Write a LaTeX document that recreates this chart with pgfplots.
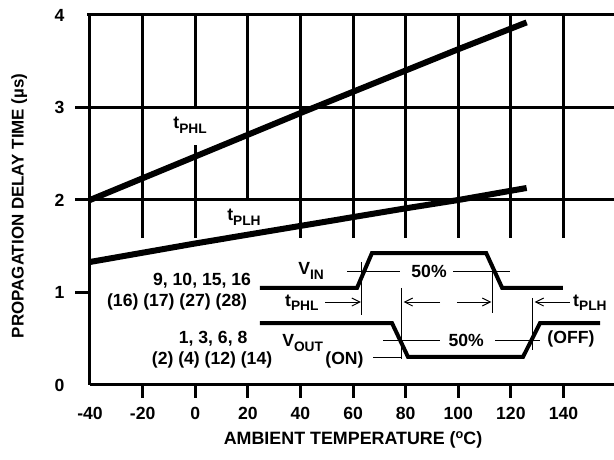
\documentclass[border=0pt]{standalone}
\usepackage{fontspec}
\setmainfont{Liberation Sans}
\usepackage{pgfplots}
\pgfplotsset{compat=1.18}
\usetikzlibrary{arrows.meta}

\newcommand\lbl{\bfseries\fontsize{13.2}{15}\selectfont}
\newcommand\sub[1]{\raisebox{-3.6pt}{\fontsize{10.3}{11}\selectfont #1}}

\begin{document}
\begin{tikzpicture}
\begin{axis}[
  at={(0,0)}, anchor=south west,
  width=393pt, height=277.5pt,
  scale only axis,
  xmin=-40, xmax=159.2,
  ymin=0, ymax=4,
  clip=false,
  axis line style={draw=none},
  major tick length=0pt,
  xtick={-40,-20,...,140},
  xticklabels={-40,-20,0,20,40,60,80,100,120,140},
  ytick={0,1,2,3,4},
  yticklabels={0,1,2,3,4},
  xticklabel style={font=\lbl, inner sep=0pt, yshift=-16.5pt},
  yticklabel style={font=\lbl, inner sep=0pt, xshift=-19pt},
  xlabel={AMBIENT TEMPERATURE (\raisebox{4.5pt}{\fontsize{9.5}{10}\selectfont o}C)},
  ylabel={PROPAGATION DELAY TIME (µs)},
  xlabel style={font=\bfseries\fontsize{13.4}{15}\selectfont, at={(axis description cs:0.502,-0.149)}, anchor=center},
  ylabel style={font=\bfseries\fontsize{12.7}{14}\selectfont, at={(axis description cs:-0.135,0.484)}, anchor=center, rotate=0},
]
% frame (no right side)
\draw[line width=2.25pt] (axis cs:-40,0) -- (axis cs:-40,4);
\draw[line width=2.25pt] (axis cs:-40,0) -- (axis cs:159.2,0);
\draw[line width=2.25pt] (axis cs:-41,4) -- (axis cs:159.2,4);
% horizontal grid + y ticks
\draw[line width=2.25pt] (axis cs:-45.7,3) -- (axis cs:159.2,3);
\draw[line width=2.25pt] (axis cs:-45.7,2) -- (axis cs:159.2,2);
\draw[line width=2.25pt] (axis cs:-45.7,1) -- (axis cs:-40,1);
% x ticks
\pgfplotsinvokeforeach{-20,0,...,140}{
  \draw[line width=2.25pt] (axis cs:#1,0) -- (axis cs:#1,-0.14);
}
% vertical grid (upper part only, gaps at labels)
\draw[line width=2.25pt] (axis cs:-20,4) -- (axis cs:-20,1.59);
\draw[line width=2.25pt] (axis cs:0,4) -- (axis cs:0,3);
\draw[line width=2.25pt] (axis cs:0,2.59) -- (axis cs:0,1.59);
\draw[line width=2.25pt] (axis cs:20,4) -- (axis cs:20,2);
\pgfplotsinvokeforeach{40,60,...,140}{
  \draw[line width=2.25pt] (axis cs:#1,4) -- (axis cs:#1,1.59);
}

% data
\addplot[black, line width=4.5pt, no marks] coordinates {
  (-40,2.00) (0,2.47) (40,2.94) (80,3.40) (100,3.63) (126,3.92)};
\addplot[black, line width=4.5pt, no marks] coordinates {
  (-40,1.33) (0,1.53) (40,1.72) (80,1.91) (100,2.00) (126,2.13)};
\node[font=\lbl, anchor=base west, inner sep=0pt] at (axis cs:-8.4,2.77) {t\sub{PHL}};
\node[font=\lbl, anchor=base west, inner sep=0pt] at (axis cs:12.1,1.78) {t\sub{PLH}};

% switching waveform inset
\addplot[black, line width=3pt, no marks] coordinates {
  (24.6,1.049) (61.5,1.049) (67.2,1.427) (110.6,1.427) (116.7,1.049) (139.8,1.049)};
\addplot[black, line width=3pt, no marks] coordinates {
  (24.6,0.670) (74.8,0.670) (80.9,0.303) (124.6,0.303) (131.1,0.670) (153.9,0.670)};
\draw[line width=0.75pt] (axis cs:57.7,1.232) -- (axis cs:77.9,1.232);
\draw[line width=0.75pt] (axis cs:98,1.232) -- (axis cs:119.7,1.232);
\draw[line width=0.75pt] (axis cs:71.4,0.486) -- (axis cs:93.1,0.486);
\draw[line width=0.75pt] (axis cs:114,0.486) -- (axis cs:131.1,0.486);
\draw[line width=0.75pt] (axis cs:67.6,0.292) -- (axis cs:78.6,0.292);
\draw[line width=0.75pt] (axis cs:63.4,1.330) -- (axis cs:63.4,0.757);
\draw[line width=0.75pt] (axis cs:78.6,1.049) -- (axis cs:78.6,0.281);
\draw[line width=0.75pt] (axis cs:113.2,1.319) -- (axis cs:113.2,0.778);
\draw[line width=0.75pt] (axis cs:128.4,0.941) -- (axis cs:128.4,0.378);
\draw[line width=0.75pt, -{Straight Barb[length=6pt,width=6pt]}] (axis cs:49.4,0.897) -- (axis cs:63.0,0.897);
\draw[line width=0.75pt, -{Straight Barb[length=6pt,width=6pt]}] (axis cs:93.1,0.897) -- (axis cs:79.2,0.897);
\draw[line width=0.75pt, -{Straight Barb[length=6pt,width=6pt]}] (axis cs:99.5,0.897) -- (axis cs:112.6,0.897);
\draw[line width=0.75pt, -{Straight Barb[length=6pt,width=6pt]}] (axis cs:142.5,0.897) -- (axis cs:129.0,0.897);
\node[font=\lbl, fill=white, inner sep=1pt] at (axis cs:88.9,1.232) {50\%};
\node[font=\lbl, fill=white, inner sep=1pt] at (axis cs:103,0.480) {50\%};
\node[font=\lbl, anchor=base west, inner sep=0pt] at (axis cs:39.1,1.19) {V\sub{IN}};
\node[font=\lbl, anchor=base west, inner sep=0pt] at (axis cs:34.1,0.854) {t\sub{PHL}};
\node[font=\lbl, anchor=base west, inner sep=0pt] at (axis cs:33.0,0.411) {V\sub{OUT}};
\node[font=\lbl, anchor=base west, inner sep=0pt] at (axis cs:49.4,0.227) {(ON)};
\node[font=\lbl, anchor=base west, inner sep=0pt] at (axis cs:133.8,0.454) {(OFF)};
\node[font=\lbl, anchor=base west, inner sep=0pt] at (axis cs:143.6,0.854) {t\sub{PLH}};
\node[font=\lbl, anchor=base, inner sep=0pt] at (axis cs:2.6,1.081) {9, 10, 15, 16};
\node[font=\lbl, anchor=base, inner sep=0pt] at (axis cs:-6.9,0.846) {(16) (17) (27) (28)};
\node[font=\lbl, anchor=base, inner sep=0pt] at (axis cs:6.8,0.454) {1, 3, 6, 8};
\node[font=\lbl, anchor=base, inner sep=0pt] at (axis cs:6.4,0.227) {(2) (4) (12) (14)};
\end{axis}
\pgfresetboundingbox
\path (-67.5pt,-56.25pt) rectangle (393pt,288.75pt);
\end{tikzpicture}
\end{document}
